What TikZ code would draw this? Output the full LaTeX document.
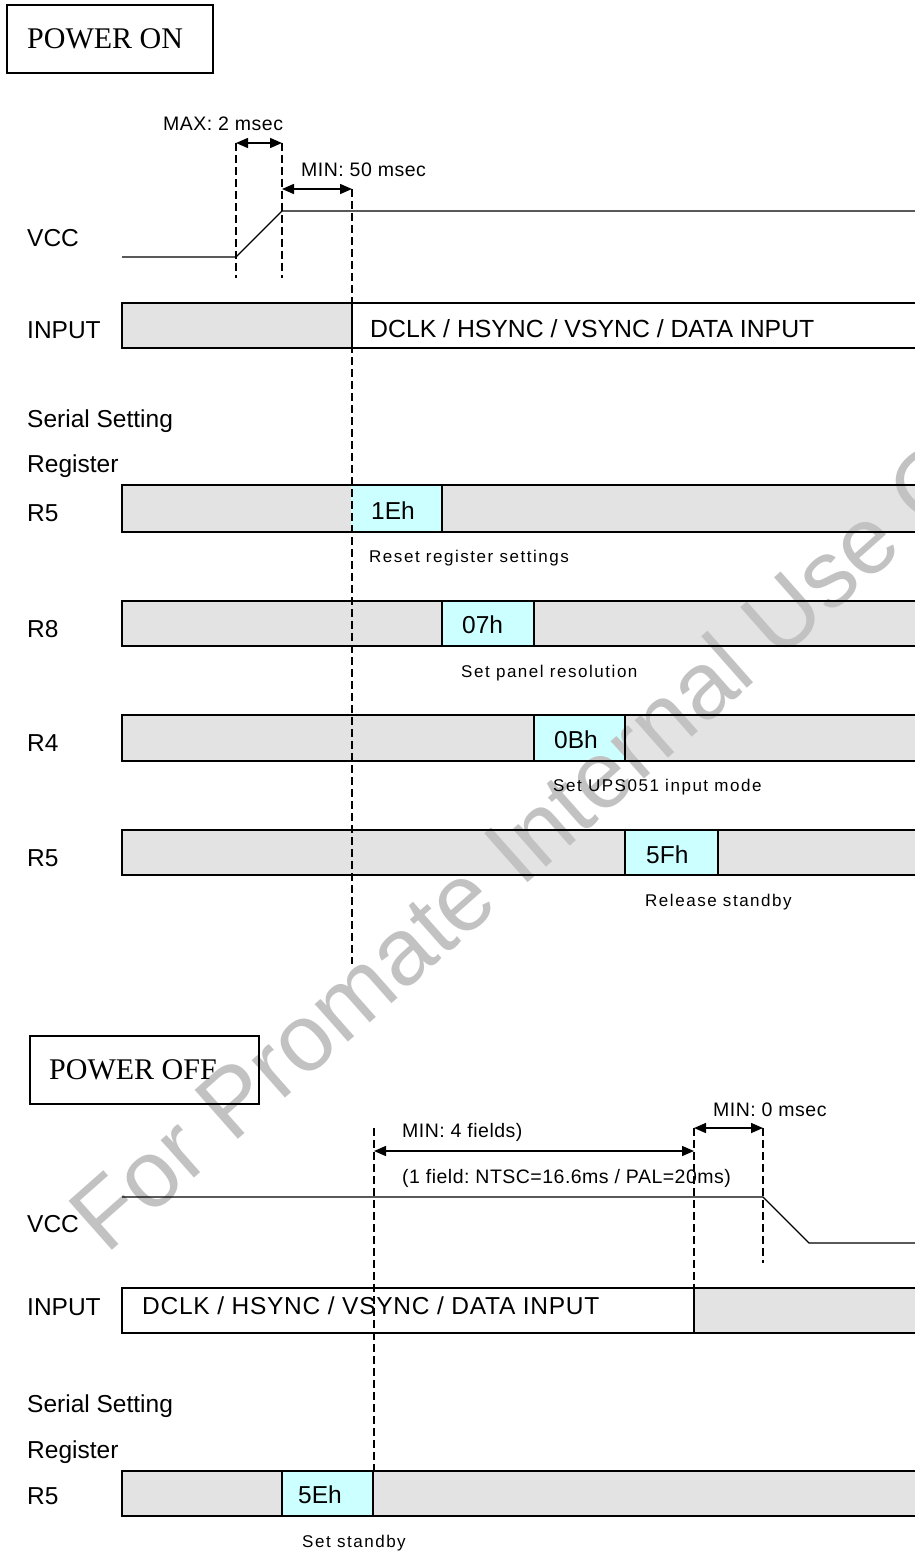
\documentclass[tikz,border=0pt]{standalone}
\usepackage{fontspec}
\setmainfont{Liberation Sans}
\newfontfamily\serifpw{Liberation Serif}
\newfontfamily\lsans[LetterSpace=9]{Liberation Sans}
\newfontfamily\msans[LetterSpace=2.5]{Liberation Sans}
\newfontfamily\wsans[LetterSpace=3]{Liberation Sans}
\usetikzlibrary{arrows.meta}
\definecolor{boxgray}{HTML}{E3E3E3}
\definecolor{regcyan}{HTML}{CCFFFF}
\definecolor{wmgray}{HTML}{C2C2C2}
\tikzset{
  sig/.style={line width=1.4pt},
  boxline/.style={draw, line width=1.6pt},
  dsh/.style={line width=2pt, dash pattern=on 8pt off 4pt},
  dim/.style={line width=1.5pt, {Triangle[length=12pt,width=10pt]}-{Triangle[length=12pt,width=10pt]}},
  lbl/.style={anchor=base west, inner sep=0pt, font=\fontsize{24.5}{28}\selectfont},
  small/.style={anchor=base west, inner sep=0pt, font=\msans\fontsize{19.5}{22}\selectfont},
  note/.style={anchor=base west, inner sep=0pt, font=\lsans\fontsize{17}{20}\selectfont},
  ttl/.style={anchor=base west, inner sep=0pt, font=\serifpw\fontsize{30}{34}\selectfont},
  wm/.style={anchor=base west, inner sep=0pt, text=wmgray, rotate=41.5, font=\fontsize{95}{100}\selectfont}
}
\begin{document}
\begin{tikzpicture}[x=1pt,y=-1pt]
\useasboundingbox (0,0) rectangle (914,1551);
% ---------- fills ----------
\fill[boxgray] (122,303) rectangle (352,348);
\fill[boxgray] (122,485) rectangle (920,532);
\fill[regcyan] (351,485) rectangle (442,532);
\fill[boxgray] (122,601) rectangle (920,646);
\fill[regcyan] (442,601) rectangle (534,646);
\fill[boxgray] (122,715) rectangle (920,761);
\fill[regcyan] (534,715) rectangle (625,761);
\fill[boxgray] (122,830) rectangle (920,875);
\fill[regcyan] (625,830) rectangle (718,875);
\fill[boxgray] (694,1288) rectangle (920,1333);
\fill[boxgray] (122,1471) rectangle (920,1516);
\fill[regcyan] (282,1471) rectangle (373,1516);
% ---------- watermark ----------
\node[wm] (wmark) at (106,1256) {For Promate Internal Use Only};
% ---------- POWER ON ----------
\draw[line width=1.3pt] (7,5) rectangle (213,73);
\node[ttl] (ton) at (27,48) {POWER ON};
\node[small] (max) at (163,130.7) {MAX: 2 msec};
\node[small] (min50) at (301,176.7) {MIN: 50 msec};
\node[lbl] (vcc1) at (27,246) {VCC};
\node[lbl] (in1) at (27,338) {INPUT};
\node[lbl, font=\fontsize{24.8}{28}\selectfont] (dat1) at (370,337) {DCLK / HSYNC / VSYNC / DATA INPUT};
\node[lbl] (ser1) at (27,427) {Serial Setting};
\node[lbl] (reg1) at (27,472) {Register};
\node[lbl] (r5a) at (27,521) {R5};
\node[lbl] (r8) at (27,637) {R8};
\node[lbl] (r4) at (27,751) {R4};
\node[lbl] (r5b) at (27,866) {R5};
\node[lbl] (v1e) at (371,519) {1Eh};
\node[lbl] (v07) at (462,633) {07h};
\node[lbl] (v0b) at (554,748) {0Bh};
\node[lbl] (v5f) at (646,863) {5Fh};
\node[note] (n1) at (369,562) {Reset register settings};
\node[note] (n2) at (461,677) {Set panel resolution};
\node[note] (n3) at (553,791) {Set UPS051 input mode};
\node[note] (n4) at (645,906) {Release standby};
% signal
\coordinate (a0) at (122,257); \coordinate (a1) at (236,257);
\coordinate (a2) at (282,211); \coordinate (a3) at (920,211);
\draw[sig] (a0) -- (a1) -- (a2) -- (a3);
% box borders
\draw[boxline] (920,303) -- (122,303) -- (122,348) -- (920,348);
\draw[boxline] (352,303) -- (352,348);
\draw[boxline] (920,485) -- (122,485) -- (122,532) -- (920,532);
\draw[boxline] (442,485) -- (442,532);
\draw[boxline] (920,601) -- (122,601) -- (122,646) -- (920,646);
\draw[boxline] (442,601) -- (442,646) (534,601) -- (534,646);
\draw[boxline] (920,715) -- (122,715) -- (122,761) -- (920,761);
\draw[boxline] (534,715) -- (534,761) (625,715) -- (625,761);
\draw[boxline] (920,830) -- (122,830) -- (122,875) -- (920,875);
\draw[boxline] (625,830) -- (625,875) (718,830) -- (718,875);
% dashed guides and dimensions
\coordinate (d1t) at (236,143); \coordinate (d1b) at (236,278);
\coordinate (d2t) at (282,143); \coordinate (d2b) at (282,278);
\coordinate (d2m) at (282,189);
\coordinate (d3t) at (352,189); \coordinate (d3b) at (352,964);
\draw[dsh] (d1t) -- (d1b);
\draw[dsh] (d2t) -- (d2b);
\draw[dsh] (d3t) -- (d3b);
\draw[dim] (d1t) -- (d2t);
\draw[dim] (d2m) -- (d3t);
% ---------- POWER OFF ----------
\draw[line width=1.3pt] (30,1036) rectangle (259,1104);
\node[ttl] (toff) at (49,1079) {POWER OFF};
\node[small] (min4) at (402,1137) {MIN: 4 fields)};
\node[small] (fld) at (402,1183) {(1 field:~NTSC=16.6ms / PAL=20ms)};
\node[small] (min0) at (713,1116) {MIN: 0 msec};
\node[lbl] (vcc2) at (27,1232) {VCC};
\node[lbl] (in2) at (27,1315) {INPUT};
\node[lbl, font=\wsans\fontsize{24.5}{28}\selectfont] (dat2) at (142,1314) {DCLK / HSYNC / VSYNC / DATA INPUT};
\node[lbl] (ser2) at (27,1412) {Serial Setting};
\node[lbl] (reg2) at (27,1458) {Register};
\node[lbl] (r5c) at (27,1504) {R5};
\node[lbl] (v5e) at (298,1503) {5Eh};
\node[note] (n5) at (302,1547) {Set standby};
\coordinate (b0) at (122,1197); \coordinate (b1) at (763,1197);
\coordinate (b2) at (809,1243); \coordinate (b3) at (920,1243);
\draw[sig] (b0) -- (b1) -- (b2) -- (b3);
\draw[boxline] (920,1288) -- (122,1288) -- (122,1333) -- (920,1333);
\draw[boxline] (694,1288) -- (694,1333);
\draw[boxline] (920,1471) -- (122,1471) -- (122,1516) -- (920,1516);
\draw[boxline] (282,1471) -- (282,1516) (373,1471) -- (373,1516);
\coordinate (e1t) at (374,1128); \coordinate (e1m) at (374,1151); \coordinate (e1b) at (374,1471);
\coordinate (e2t) at (694,1128); \coordinate (e2m) at (694,1151); \coordinate (e2b) at (694,1288);
\coordinate (e3t) at (763,1128); \coordinate (e3b) at (763,1263);
\draw[dsh] (e1t) -- (e1b);
\draw[dsh] (e2t) -- (e2b);
\draw[dsh] (e3t) -- (e3b);
\draw[dim] (e1m) -- (e2m);
\draw[dim] (e2t) -- (e3t);
\end{tikzpicture}
\end{document}
